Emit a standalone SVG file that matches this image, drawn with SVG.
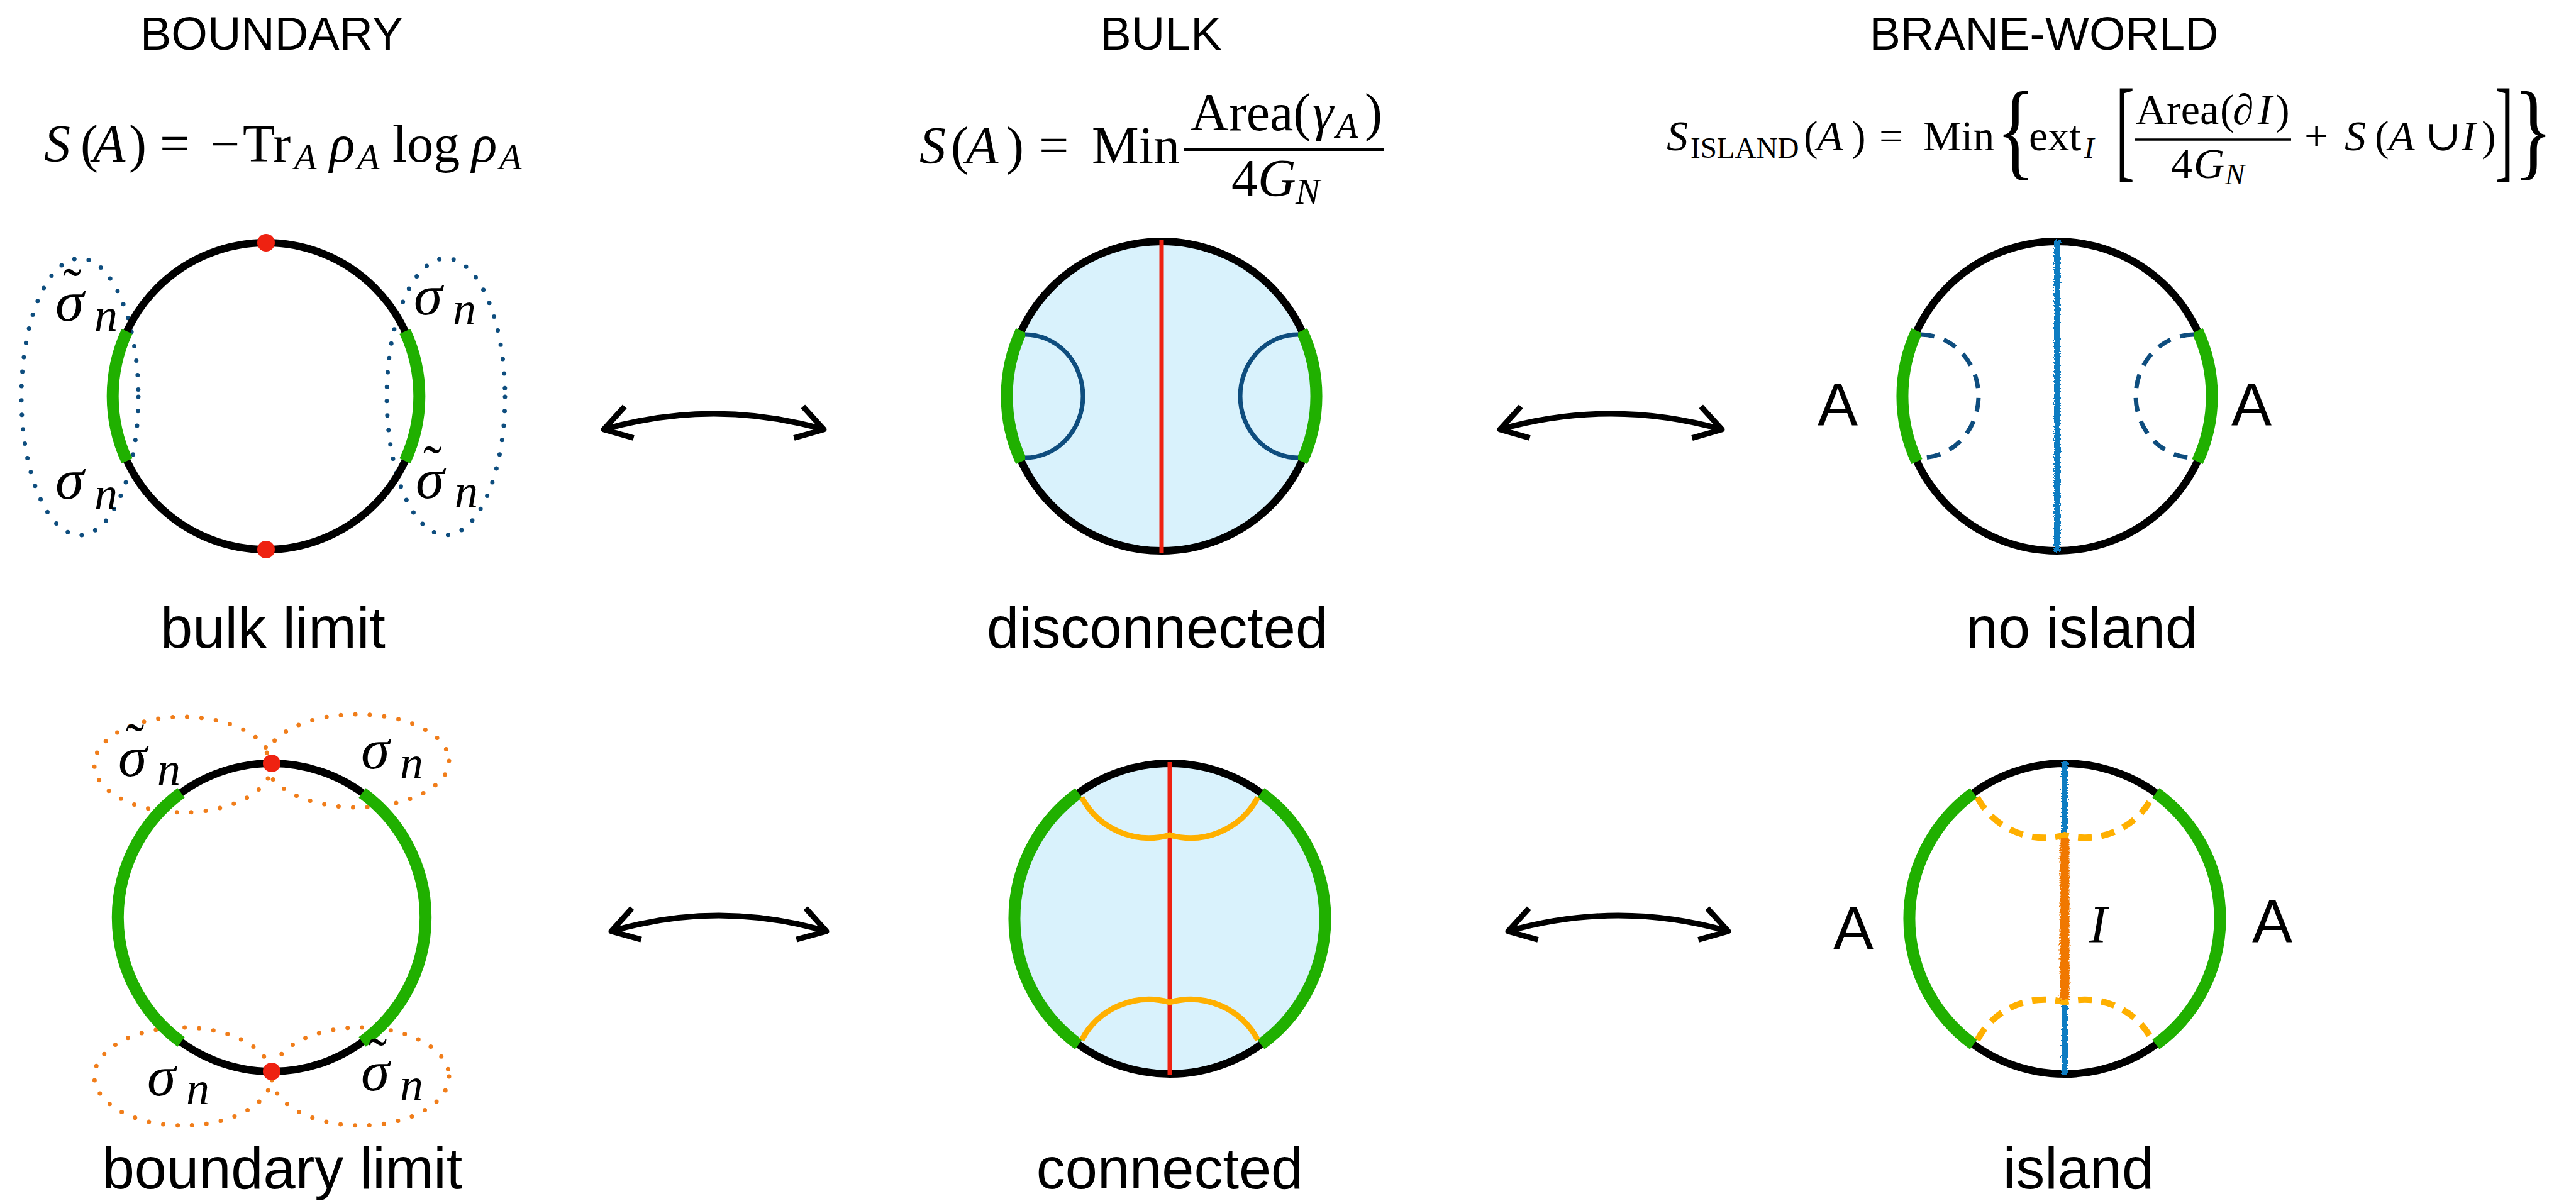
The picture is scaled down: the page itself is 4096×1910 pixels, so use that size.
<svg xmlns="http://www.w3.org/2000/svg" width="4096" height="1910" viewBox="0 0 4096 1910">
<style>
.hdr{font-family:"Liberation Sans",Arial,sans-serif;font-size:74px;text-anchor:middle;fill:#000}
.lbl{font-family:"Liberation Sans",Arial,sans-serif;font-size:92px;text-anchor:middle;fill:#000}
.big{font-family:"Liberation Sans",Arial,sans-serif;font-size:96px;text-anchor:middle;fill:#000}
.m{font-family:"Liberation Serif","DejaVu Serif",serif;fill:#000}
.i{font-style:italic}
.f1{font-size:84px}.f2{font-size:84px}.f3{font-size:68px}
.s1{font-size:58px}.s3{font-size:47px}
.sig{font-family:"Liberation Serif","DejaVu Serif",serif;font-style:italic;font-size:92px}
.sn{font-family:"Liberation Serif","DejaVu Serif",serif;font-style:italic;font-size:74px}
.til{font-family:"Liberation Serif","DejaVu Serif",serif;font-style:normal;font-size:88px}
.ring{fill:none;stroke:#000;stroke-width:12}
.ringf{fill:#D9F2FC;stroke:#000;stroke-width:12}
.grn{fill:none;stroke:#20B000;stroke-width:19}
.redl{fill:none;stroke:#EE2211;stroke-width:7}
.dot{fill:#EE2211}
.rt{fill:none;stroke:#0E4D7E;stroke-width:7}
.rtd{fill:none;stroke:#0E4D7E;stroke-width:7;stroke-dasharray:22 16}
.org{fill:none;stroke:#FFB000;stroke-width:9}
.orgd{fill:none;stroke:#FFB000;stroke-width:10;stroke-dasharray:22 15}
.bdots{fill:none;stroke:#0E4D7E;stroke-width:7;stroke-dasharray:0 23;stroke-linecap:round}
.odots{fill:none;stroke:#F07D1A;stroke-width:7;stroke-dasharray:0 23;stroke-linecap:round}
.brane{fill:none;stroke:#0A7BC2;stroke-width:10;filter:url(#rough)}
.isl{fill:none;stroke:#F07800;stroke-width:15;filter:url(#rough)}
.arr{fill:none;stroke:#000;stroke-width:9;marker-start:url(#ah);marker-end:url(#ah)}
.bar{stroke:#000}
</style>
<defs>
<marker id="ah" markerUnits="userSpaceOnUse" markerWidth="70" markerHeight="70" viewBox="-60 -35 70 70" refX="0" refY="0" orient="auto-start-reverse" overflow="visible">
<path d="M-42,-26 L0,0 L-42,26" fill="none" stroke="#000" stroke-width="9" stroke-linejoin="round"/>
</marker>
<filter id="rough" filterUnits="userSpaceOnUse" x="0" y="0" width="4096" height="1910">
<feTurbulence type="fractalNoise" baseFrequency="0.45" numOctaves="2" seed="3"/>
<feDisplacementMap in="SourceGraphic" scale="7" xChannelSelector="R" yChannelSelector="G"/>
</filter>
</defs>
<rect width="4096" height="1910" fill="#fff"/>

<g id="headers">
<text class="hdr" x="432" y="79">BOUNDARY</text>
<text class="hdr" x="1846" y="79">BULK</text>
<text class="hdr" x="3250" y="79">BRANE-WORLD</text>
</g>

<g id="formula-boundary" class="m">
<text class="f1 i" x="70" y="257">S</text>
<text class="f1" x="128" y="257">(</text>
<text class="f1 i" x="148" y="257">A</text>
<text class="f1" x="205" y="257">)</text>
<text class="f1" x="254" y="257">=</text>
<text class="f1" x="334" y="257">−</text>
<text class="f1" x="386" y="257">Tr</text>
<text class="s1 i" x="468" y="269">A</text>
<text class="f1 i" x="524" y="257">ρ</text>
<text class="s1 i" x="568" y="269">A</text>
<text class="f1" x="624" y="257">log</text>
<text class="f1 i" x="750" y="257">ρ</text>
<text class="s1 i" x="794" y="269">A</text>
</g>

<g id="formula-bulk" class="m">
<text class="f2 i" x="1462" y="260">S</text>
<text class="f2" x="1512" y="260">(</text>
<text class="f2 i" x="1536" y="260">A</text>
<text class="f2" x="1600" y="260">)</text>
<text class="f2" x="1652" y="260">=</text>
<text class="f2" x="1736" y="260">Min</text>
<line class="bar" x1="1883" y1="238" x2="2200" y2="238" stroke-width="4"/>
<text class="f2" x="1893" y="207">Area(</text>
<text class="f2 i" x="2087" y="207">γ</text>
<text class="s1 i" x="2124" y="219">A</text>
<text class="f2" x="2170" y="207">)</text>
<text class="f2" x="1958" y="312">4</text>
<text class="f2 i" x="2000" y="312">G</text>
<text class="s1 i" x="2060" y="324">N</text>
</g>

<g id="formula-island" class="m">
<text class="f3 i" x="2650" y="239">S</text>
<text class="s3" x="2688" y="251">ISLAND</text>
<text class="f3" x="2868" y="239">(</text>
<text class="f3 i" x="2889" y="239">A</text>
<text class="f3" x="2944" y="239">)</text>
<text class="f3" x="2988" y="239">=</text>
<text class="f3" x="3058" y="239">Min</text>
<text font-size="172" transform="translate(3174,264) scale(0.75,1)">{</text>
<text class="f3" x="3226" y="239">ext</text>
<text class="s3 i" x="3314" y="251">I</text>
<text font-size="180" transform="translate(3364,266) scale(0.5,1)">[</text>
<line class="bar" x1="3394" y1="222" x2="3643" y2="222" stroke-width="3.5"/>
<text class="f3" x="3396" y="197">Area</text>
<text class="f3" x="3530" y="197">(</text>
<text class="f3 i" x="3550" y="197">∂</text>
<text class="f3 i" x="3590" y="197">I</text>
<text class="f3" x="3618" y="197">)</text>
<text class="f3" x="3452" y="283">4</text>
<text class="f3 i" x="3488" y="283">G</text>
<text class="s3 i" x="3538" y="293">N</text>
<text class="f3" x="3664" y="239">+</text>
<text class="f3 i" x="3728" y="239">S</text>
<text class="f3" x="3776" y="239">(</text>
<text class="f3 i" x="3798" y="239">A</text>
<text class="f3" x="3856" y="239">∪</text>
<text class="f3 i" x="3914" y="239">I</text>
<text class="f3" x="3946" y="239">)</text>
<text font-size="180" transform="translate(3967,266) scale(0.5,1)">]</text>
<text font-size="172" transform="translate(3997,264) scale(0.75,1)">}</text>
</g>

<g id="bulk-limit">
<ellipse class="bdots" cx="127" cy="631" rx="93" ry="220"/>
<ellipse class="bdots" cx="709" cy="631" rx="94" ry="220"/>
<circle class="ring" cx="423" cy="630" r="244"/>
<path class="grn" d="M202,527 A244,244 0 0 0 202,733"/>
<path class="grn" d="M644,527 A244,244 0 0 1 644,733"/>
<circle class="dot" cx="423" cy="386" r="14"/>
<circle class="dot" cx="423" cy="874" r="14"/>
<text class="sig"><tspan class="til" x="100" y="488">˜</tspan><tspan x="88" y="510">σ</tspan><tspan class="sn" x="150" y="526">n</tspan></text>
<text class="sig"><tspan x="88" y="793">σ</tspan><tspan class="sn" x="150" y="810">n</tspan></text>
<text class="sig"><tspan x="658" y="500">σ</tspan><tspan class="sn" x="720" y="516">n</tspan></text>
<text class="sig"><tspan class="til" x="673" y="770">˜</tspan><tspan x="661" y="792">σ</tspan><tspan class="sn" x="723" y="806">n</tspan></text>
<text class="lbl" x="434" y="1030">bulk limit</text>
</g>

<g id="disconnected">
<circle class="ringf" cx="1847" cy="630" r="246"/>
<path class="grn" d="M1624,526 A246,246 0 0 0 1624,734"/>
<path class="grn" d="M2070,526 A246,246 0 0 1 2070,734"/>
<path class="rt" d="M1630,532 A92,98 0 0 1 1630,728"/>
<path class="rt" d="M2064,532 A92,98 0 0 0 2064,728"/>
<path class="redl" d="M1847,381 V879"/>
<text class="lbl" x="1840" y="1030">disconnected</text>
</g>

<g id="no-island">
<circle class="ring" cx="3271" cy="630" r="246"/>
<path class="grn" d="M3048,526 A246,246 0 0 0 3048,734"/>
<path class="grn" d="M3494,526 A246,246 0 0 1 3494,734"/>
<path class="rtd" d="M3054,532 A92,98 0 0 1 3054,728"/>
<path class="rtd" d="M3488,532 A92,98 0 0 0 3488,728"/>
<path class="brane" d="M3271,382 V878"/>
<text class="big" x="2922" y="676">A</text>
<text class="big" x="3580" y="676">A</text>
<text class="lbl" x="3310" y="1030">no island</text>
</g>

<g id="boundary-limit">
<ellipse class="odots" cx="291" cy="1216" rx="141" ry="76"/>
<ellipse class="odots" cx="568" cy="1210" rx="146" ry="74"/>
<ellipse class="odots" cx="291" cy="1712" rx="141" ry="78"/>
<ellipse class="odots" cx="573" cy="1712" rx="141" ry="78"/>
<circle class="ring" cx="432" cy="1459" r="245"/>
<path class="grn" d="M288,1261 A245,245 0 0 0 288,1657"/>
<path class="grn" d="M576,1261 A245,245 0 0 1 576,1657"/>
<circle class="dot" cx="432" cy="1214" r="14"/>
<circle class="dot" cx="432" cy="1704" r="14"/>
<text class="sig"><tspan class="til" x="200" y="1212">˜</tspan><tspan x="188" y="1234">σ</tspan><tspan class="sn" x="250" y="1248">n</tspan></text>
<text class="sig"><tspan x="574" y="1222">σ</tspan><tspan class="sn" x="636" y="1238">n</tspan></text>
<text class="sig"><tspan x="234" y="1742">σ</tspan><tspan class="sn" x="296" y="1756">n</tspan></text>
<text class="sig"><tspan class="til" x="586" y="1712">˜</tspan><tspan x="574" y="1734">σ</tspan><tspan class="sn" x="636" y="1750">n</tspan></text>
<text class="lbl" x="449" y="1890">boundary limit</text>
</g>

<g id="connected">
<circle class="ringf" cx="1860" cy="1461" r="247"/>
<path class="grn" d="M1715,1261 A247,247 0 0 0 1715,1661"/>
<path class="grn" d="M2005,1261 A247,247 0 0 1 2005,1661"/>
<path class="redl" d="M1860,1212 V1710"/>
<path class="org" d="M1720,1268 A121,121 0 0 0 1860,1328 A121,121 0 0 0 2000,1268"/>
<path class="org" d="M1720,1654 A121,121 0 0 1 1860,1594 A121,121 0 0 1 2000,1654"/>
<text class="lbl" x="1860" y="1890">connected</text>
</g>

<g id="island">
<circle class="ring" cx="3283" cy="1461" r="247"/>
<path class="grn" d="M3138,1261 A247,247 0 0 0 3138,1661"/>
<path class="grn" d="M3428,1261 A247,247 0 0 1 3428,1661"/>
<path class="brane" d="M3283,1212 V1710"/>
<path class="orgd" d="M3144,1268 A121,121 0 0 0 3283,1328 A121,121 0 0 0 3422,1268"/>
<path class="orgd" d="M3144,1654 A121,121 0 0 1 3283,1594 A121,121 0 0 1 3422,1654"/>
<path class="isl" d="M3283,1333 V1590"/>
<text class="big" x="2947" y="1509">A</text>
<text class="big" x="3613" y="1498">A</text>
<text class="m i" font-size="84" x="3322" y="1499">I</text>
<text class="lbl" x="3305" y="1890">island</text>
</g>

<g id="connectors">
<path class="arr" d="M960,683 Q1135,633 1310,683"/>
<path class="arr" d="M2385,683 Q2561,633 2738,683"/>
<path class="arr" d="M972,1481 Q1143,1431 1314,1481"/>
<path class="arr" d="M2398,1481 Q2573,1431 2748,1481"/>
</g>
</svg>
